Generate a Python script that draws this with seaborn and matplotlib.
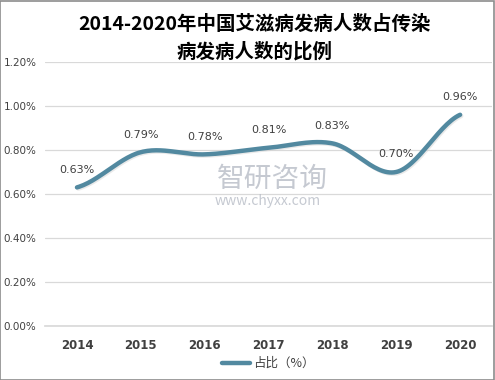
import numpy as np
import pandas as pd
import matplotlib
matplotlib.use("Agg")
import matplotlib.pyplot as plt
import seaborn as sns
from matplotlib.patches import Rectangle

# データ
years = ["2014", "2015", "2016", "2017", "2018", "2019", "2020"]
ratio = [0.63, 0.79, 0.78, 0.81, 0.83, 0.70, 0.96]
y_ticks = [0.0, 0.2, 0.4, 0.6, 0.8, 1.0, 1.2]
title = "2014-2020年中国艾滋病发病人数占传染\n病发病人数的比例"
legend_label = "占比（%）"

sns.set_theme(style="white")
plt.rcParams["font.family"] = ["Noto Sans CJK SC", "DejaVu Sans"]

line_color = "#5289a0"
text_color = "#404040"


def smooth(xs, ys, n=30):
    """Catmull-Rom で滑らかな曲線にする"""
    xs = np.asarray(xs, float)
    ys = np.asarray(ys, float)
    px = np.concatenate([[2 * xs[0] - xs[1]], xs, [2 * xs[-1] - xs[-2]]])
    py = np.concatenate([[ys[0]], ys, [ys[-1]]])
    out_x, out_y = [], []
    for i in range(1, len(px) - 2):
        t = np.linspace(0, 1, n)
        for p, out in ((px, out_x), (py, out_y)):
            p0, p1, p2, p3 = p[i - 1], p[i], p[i + 1], p[i + 2]
            out.extend(0.5 * ((2 * p1) + (-p0 + p2) * t
                              + (2 * p0 - 5 * p1 + 4 * p2 - p3) * t ** 2
                              + (-p0 + 3 * p1 - 3 * p2 + p3) * t ** 3))
    return np.array(out_x), np.array(out_y)


df = pd.DataFrame({"year": years, "ratio": ratio})
df["pos"] = np.arange(len(df))

fig = plt.figure(figsize=(4.95, 3.8), dpi=100)
ax = fig.add_axes([0.091, 0.142, 0.903, 0.695])

sx, sy = smooth(df["pos"], df["ratio"])
curve = pd.DataFrame({"x": sx, "y": sy})
# 影
ax.plot(sx + 0.02, sy - 0.006, color="#d0d0d0", lw=3.0, alpha=0.45,
        zorder=2)
sns.lineplot(data=curve, x="x", y="y", ax=ax, color=line_color, lw=3.2,
             sort=False, label=legend_label, zorder=3)

for p, v in zip(df["pos"], df["ratio"]):
    ax.annotate(f"{v:.2f}%", (p, v), xytext=(0, 9), textcoords="offset points",
                ha="center", va="bottom", fontsize=8, color=text_color,
                family=["DejaVu Sans"])

ax.set_xlim(-0.5, len(years) - 0.5)
ax.set_ylim(0, 1.2)
ax.set_xticks(df["pos"])
ax.set_xticklabels(years, fontsize=8.5, fontweight="bold", color=text_color,
                   family=["DejaVu Sans"])
ax.set_yticks(y_ticks)
ax.set_yticklabels([f"{t:.2f}%" for t in y_ticks], fontsize=7.5,
                   color=text_color, family=["DejaVu Sans"], ha="left")
ax.tick_params(axis="x", length=0, pad=9)
ax.tick_params(axis="y", length=0, pad=30)
ax.grid(axis="y", color="#d9d9d9", lw=0.9)
ax.set_axisbelow(True)
for s in ax.spines.values():
    s.set_visible(False)
ax.spines["bottom"].set_visible(True)
ax.spines["bottom"].set_color("#d9d9d9")
ax.set_xlabel("")
ax.set_ylabel("")

leg = ax.legend(loc="upper center", bbox_to_anchor=(0.5, -0.075), frameon=False,
                fontsize=9, handlelength=2.2, handletextpad=0.3)
for t in leg.get_texts():
    t.set_color(text_color)

# 透かし
fig.text(0.55, 0.53, "智研咨询", ha="center", va="center", fontsize=20,
         color="#b7bcc6", alpha=0.8)
fig.text(0.54, 0.47, "www.chyxx.com", ha="center", va="center", fontsize=10,
         color="#b7bcc6", alpha=0.8)

fig.suptitle(title, x=0.515, y=0.96, fontsize=14, fontweight="bold",
             color="black", linespacing=1.45)

fig.patches.append(Rectangle((0.001, 0.001), 0.997, 0.996, transform=fig.transFigure,
                             fill=False, edgecolor="#8c8c8c", lw=1.2))

fig.savefig("out.png", dpi=100)
